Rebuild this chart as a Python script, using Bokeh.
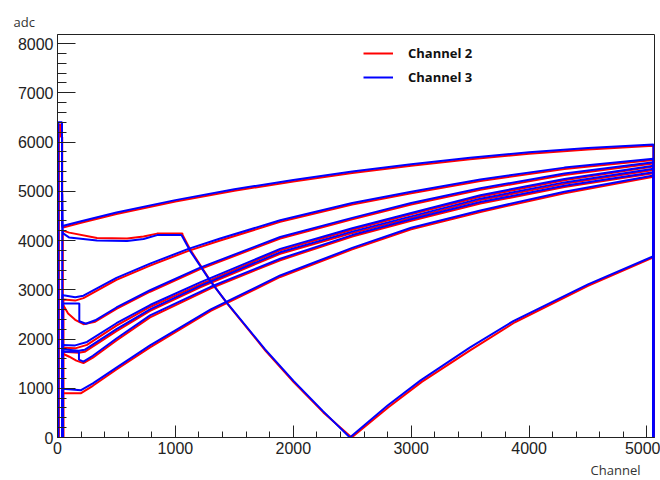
from bokeh.plotting import figure
from bokeh.models import (Range1d, SingleIntervalTicker, Legend, LegendItem,
                          ColumnDataSource, Title)
from bokeh.embed import file_html
from bokeh.resources import INLINE

# ---- data: ADC value vs channel, several traces per readout channel ----
# Channel 3 (blue)
ch3_a_x = [7, 7, 38, 38, 50, 200, 500, 1000, 1500, 2000, 2500, 3000, 3500, 4000, 4500, 5055, 5055]
ch3_a_y = [0, 6400, 6400, 4300, 4300, 4390, 4570, 4820, 5040, 5230, 5400, 5550, 5680, 5790, 5880, 5950, 0]
ch3_b_x = [40, 40, 45, 100, 335, 590, 730, 845, 1050, 1054, 1125, 1295, 1436, 1761, 2002, 2250, 2480,
           2800, 3080, 3500, 3870, 4500, 5055, 5055]
ch3_b_y = [0, 4950, 4150, 4060, 4000, 3990, 4030, 4110, 4110, 4100, 3790, 3180, 2740, 1790, 1150, 540, 0,
           650, 1160, 1830, 2370, 3110, 3680, 0]
ch3_c_x = [42, 42, 50, 150, 220, 500, 785, 1110, 1380, 1889, 2500, 3000, 3587, 4300, 5055, 5055]
ch3_c_y = [0, 2900, 2890, 2850, 2880, 3240, 3530, 3830, 4040, 4410, 4760, 4990, 5240, 5480, 5660, 0]
ch3_d_x = [44, 44, 185, 185, 240, 320, 500, 785, 1210, 1889, 2500, 3000, 3587, 4300, 5055, 5055]
ch3_d_y = [0, 2720, 2720, 2360, 2310, 2380, 2640, 2990, 3450, 4070, 4460, 4760, 5060, 5360, 5590, 0]
ch3_e_x = [42, 42, 150, 250, 500, 785, 1210, 1889, 2500, 3000, 3587, 4300, 5055, 5055]
ch3_e_y = [0, 1880, 1870, 1940, 2320, 2690, 3150, 3830, 4250, 4560, 4920, 5250, 5520, 0]
ch3_f_x = [42, 42, 180, 230, 500, 785, 1210, 1889, 2500, 3000, 3587, 4300, 5055, 5055]
ch3_f_y = [0, 1790, 1760, 1780, 2200, 2600, 3080, 3760, 4180, 4490, 4850, 5180, 5456, 0]
ch3_g_x = [43, 43, 182, 182, 220, 300, 500, 785, 1300, 1889, 2500, 3000, 3587, 4300, 5055, 5055]
ch3_g_y = [0, 1740, 1740, 1580, 1540, 1660, 2010, 2480, 3060, 3630, 4110, 4430, 4780, 5110, 5387, 0]
ch3_h_x = [42, 42, 200, 300, 500, 785, 1000, 1300, 1889, 2500, 3000, 3587, 4300, 5055, 5055]
ch3_h_y = [0, 990, 960, 1100, 1420, 1870, 2175, 2600, 3290, 3850, 4260, 4610, 4990, 5320, 0]

# Channel 2 (red)
ch2_a_x = [12, 12, 30, 30, 40, 40, 55, 200, 500, 1000, 1500, 2000, 2500, 3000, 3500, 4000, 4500, 5055, 5055]
ch2_a_y = [0, 6350, 6350, 6100, 6100, 4270, 4270, 4360, 4540, 4790, 5010, 5200, 5370, 5520, 5650, 5760,
           5850, 5925, 0]
ch2_b_x = [45, 45, 100, 335, 590, 730, 845, 1060, 1060, 1130, 1300, 1440, 1765, 2005, 2255, 2495,
           2810, 3090, 3500, 3880, 4500, 5055, 5055]
ch2_b_y = [0, 4200, 4160, 4050, 4040, 4080, 4140, 4140, 4120, 3800, 3170, 2720, 1760, 1120, 510, 0,
           620, 1130, 1770, 2340, 3080, 3660, 0]
ch2_c_x = [50, 50, 150, 220, 500, 785, 1110, 1380, 1889, 2500, 3000, 3587, 4300, 5055, 5055]
ch2_c_y = [0, 2800, 2780, 2830, 3200, 3490, 3790, 4000, 4380, 4730, 4960, 5210, 5450, 5635, 0]
ch2_d_x = [48, 48, 90, 150, 220, 320, 500, 785, 1210, 1889, 2500, 3000, 3587, 4300, 5055, 5055]
ch2_d_y = [0, 2690, 2520, 2390, 2300, 2350, 2610, 2960, 3420, 4040, 4430, 4730, 5030, 5330, 5565, 0]
ch2_e_x = [46, 46, 150, 250, 500, 785, 1210, 1889, 2500, 3000, 3587, 4300, 5055, 5055]
ch2_e_y = [0, 1820, 1810, 1880, 2270, 2650, 3110, 3800, 4220, 4530, 4890, 5225, 5500, 0]
ch2_f_x = [46, 46, 180, 230, 500, 785, 1210, 1889, 2500, 3000, 3587, 4300, 5055, 5055]
ch2_f_y = [0, 1740, 1720, 1740, 2160, 2570, 3050, 3730, 4150, 4460, 4820, 5150, 5430, 0]
ch2_g_x = [47, 47, 100, 160, 220, 300, 500, 785, 1300, 1889, 2500, 3000, 3587, 4300, 5055, 5055]
ch2_g_y = [0, 1700, 1640, 1560, 1510, 1620, 1970, 2440, 3030, 3600, 4080, 4400, 4750, 5085, 5365, 0]
ch2_h_x = [46, 46, 200, 300, 500, 785, 1000, 1300, 1889, 2500, 3000, 3587, 4300, 5055, 5055]
ch2_h_y = [0, 900, 900, 1050, 1380, 1830, 2140, 2570, 3260, 3820, 4230, 4580, 4960, 5295, 0]

ch2_xs = [ch2_a_x, ch2_b_x, ch2_c_x, ch2_d_x, ch2_e_x, ch2_f_x, ch2_g_x, ch2_h_x]
ch2_ys = [ch2_a_y, ch2_b_y, ch2_c_y, ch2_d_y, ch2_e_y, ch2_f_y, ch2_g_y, ch2_h_y]
ch3_xs = [ch3_a_x, ch3_b_x, ch3_c_x, ch3_d_x, ch3_e_x, ch3_f_x, ch3_g_x, ch3_h_x]
ch3_ys = [ch3_a_y, ch3_b_y, ch3_c_y, ch3_d_y, ch3_e_y, ch3_f_y, ch3_g_y, ch3_h_y]

series_names = ["Channel 2", "Channel 3"]
series_colors = ["#ff0000", "#0000ff"]

X_MAX = 5064
Y_MAX = 8183

p = figure(width=660, height=480, output_backend="svg", toolbar_location=None,
           x_range=Range1d(0, X_MAX), y_range=Range1d(0, Y_MAX),
           min_border_left=57, min_border_right=6, min_border_top=34, min_border_bottom=43)
p.background_fill_color = "white"
p.border_fill_color = "white"
p.outline_line_color = "#222222"
p.outline_line_width = 1
p.grid.visible = False

for ax, tin, mtin in ((p.xaxis[0], 12, 6), (p.yaxis[0], 18, 9)):
    ax.ticker = SingleIntervalTicker(interval=1000, num_minor_ticks=5)
    ax.major_tick_in = tin
    ax.major_tick_out = 0
    ax.minor_tick_in = mtin
    ax.minor_tick_out = 0
    ax.axis_line_color = "#222222"
    ax.major_tick_line_color = "#222222"
    ax.minor_tick_line_color = "#222222"
    ax.major_label_text_font = "Liberation Sans"
    ax.major_label_text_font_size = "16px"
    ax.major_label_text_color = "#222222"
    ax.major_label_standoff = 4

# traces
red_src = ColumnDataSource(dict(xs=ch2_xs, ys=ch2_ys))
blue_src = ColumnDataSource(dict(xs=ch3_xs, ys=ch3_ys))
r_red = p.multi_line("xs", "ys", source=red_src, line_color=series_colors[0], line_width=2)
r_blue = p.multi_line("xs", "ys", source=blue_src, line_color=series_colors[1], line_width=2)

legend = Legend(items=[LegendItem(label=series_names[0], renderers=[r_red], index=0),
                       LegendItem(label=series_names[1], renderers=[r_blue], index=0)],
                location=(306, 350))
legend.padding = 0
legend.margin = 0
legend.spacing = 4
legend.glyph_width = 30
legend.glyph_height = 20
legend.label_height = 20
legend.label_standoff = 15
legend.border_line_color = None
legend.background_fill_alpha = 0
legend.label_text_font = "Open Sans"
legend.label_text_font_style = "bold"
legend.label_text_font_size = "13px"
legend.label_text_color = "#111111"
p.add_layout(legend, "center")

# axis titles, ROOT style: y title top-left, x title bottom-right
p.add_layout(Title(text="adc", align="left", offset=-44, standoff=7,
                   text_font="Open Sans", text_font_size="13px", text_font_style="normal",
                   text_color="#333333"), "above")
p.add_layout(Title(text="Channel", align="right", offset=14, standoff=4,
                   text_font="Open Sans", text_font_size="13px", text_font_style="normal",
                   text_color="#333333"), "below")

open("out.html", "w").write(file_html(p, INLINE))
